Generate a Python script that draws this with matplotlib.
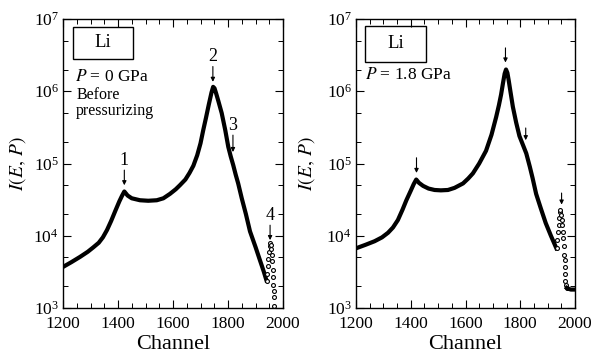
import matplotlib
matplotlib.use("Agg")
import matplotlib.pyplot as plt
from matplotlib.patches import Rectangle
from matplotlib.ticker import LogLocator, MultipleLocator, NullFormatter

plt.rcParams['font.family'] = ['Liberation Serif', 'DejaVu Serif']
plt.rcParams['mathtext.fontset'] = 'stix'

# ---- P = 0 GPa (before pressurizing) ----
ch_0 = [1200, 1230, 1262, 1290, 1310, 1330, 1345, 1360, 1375, 1390, 1405, 1415,
        1423, 1435, 1450, 1480, 1510, 1541, 1565, 1589, 1610, 1625, 1645, 1660,
        1674, 1688, 1700, 1710, 1720, 1730, 1740, 1746, 1751, 1757, 1765, 1777,
        1790, 1801, 1810, 1819, 1828, 1837, 1850, 1865, 1880, 1900, 1916, 1930, 1940]
I_0 = [3.7e3, 4.3e3, 5.1e3, 6.0e3, 6.9e3, 8.0e3, 9.5e3, 1.2e4, 1.6e4, 2.2e4, 3.0e4, 3.6e4,
       4.1e4, 3.6e4, 3.3e4, 3.1e4, 3.05e4, 3.1e4, 3.3e4, 3.8e4, 4.4e4, 5.0e4, 6.0e4, 7.4e4,
       9.3e4, 1.3e5, 1.9e5, 2.9e5, 4.3e5, 6.5e5, 9.6e5, 1.15e6, 1.1e6, 9.3e5, 7.3e5, 5.0e5,
       2.9e5, 1.7e5, 1.25e5, 9.5e4, 7.0e4, 5.3e4, 3.3e4, 2.0e4, 1.15e4, 7.0e3, 4.6e3, 3.2e3, 2.4e3]
# sparse tail (individual points visible)
ch_0_tail = [1941, 1943, 1945, 1947, 1949, 1951, 1953, 1955, 1957, 1959, 1961,
             1963, 1964, 1965, 1966, 1967, 1968]
I_0_tail = [2.4e3, 3.0e3, 3.8e3, 4.8e3, 6.0e3, 7.2e3, 7.9e3, 7.5e3, 6.5e3, 5.5e3, 4.5e3,
            3.4e3, 2.7e3, 2.1e3, 1.7e3, 1.4e3, 1.05e3]

# ---- P = 1.8 GPa ----
ch_18 = [1200, 1235, 1268, 1295, 1317, 1335, 1353, 1370, 1384, 1400, 1411, 1420,
         1430, 1445, 1465, 1487, 1510, 1536, 1560, 1591, 1610, 1627, 1650, 1675,
         1695, 1712, 1722, 1730, 1737, 1743, 1748, 1753, 1758, 1764, 1773, 1785,
         1797, 1810, 1822, 1835, 1845, 1858, 1875, 1893, 1912, 1932]
I_18 = [6.7e3, 7.5e3, 8.4e3, 9.5e3, 1.1e4, 1.3e4, 1.65e4, 2.3e4, 3.1e4, 4.2e4, 5.2e4, 6.0e4,
        5.4e4, 4.9e4, 4.5e4, 4.3e4, 4.25e4, 4.3e4, 4.6e4, 5.3e4, 6.2e4, 7.3e4, 1.0e5, 1.5e5,
        2.5e5, 4.4e5, 6.4e5, 9.0e5, 1.3e6, 1.75e6, 2.0e6, 1.8e6, 1.4e6, 1.0e6, 6.1e5, 3.7e5,
        2.4e5, 1.8e5, 1.38e5, 9.0e4, 6.3e4, 3.8e4, 2.4e4, 1.5e4, 1.0e4, 6.7e3]
ch_18_tail = [1933, 1936, 1939, 1941, 1943, 1945, 1947, 1949, 1951, 1953, 1955, 1957,
              1959, 1961, 1962, 1963, 1964, 1965, 1967, 1970]
I_18_tail = [6.7e3, 8.7e3, 1.14e4, 1.4e4, 1.74e4, 2.15e4, 2.3e4, 1.94e4, 1.65e4, 1.4e4,
             1.14e4, 9.2e3, 7.1e3, 5.4e3, 4.6e3, 3.7e3, 3.0e3, 2.4e3, 2.1e3, 1.9e3]
ch_18_end = [1970, 1975, 1985, 2000]
I_18_end = [1.9e3, 1.85e3, 1.8e3, 1.8e3]

# arrows: (channel, tail intensity, head intensity, label)
arrows_0 = [(1423, 8.1e4, 5.0e4, "1"), (1745, 2.2e6, 1.35e6, "2"),
            (1818, 2.47e5, 1.44e5, "3"), (1953, 1.4e4, 8.7e3, "4")]
arrows_18 = [(1421, 1.2e5, 7.4e4, ""), (1746, 3.98e6, 2.5e6, ""),
             (1820, 3.1e5, 2.1e5, ""), (1951, 3.9e4, 2.7e4, "")]

fig = plt.figure(figsize=(5.95, 3.57), dpi=100)
ax1 = fig.add_axes([63/595, 49/357, 220/595, 289/357])
ax2 = fig.add_axes([356/595, 49/357, 219/595, 289/357])


def style(ax):
    ax.set_yscale('log')
    ax.set_xlim(1200, 2000)
    ax.set_ylim(1e3, 1e7)
    ax.xaxis.set_major_locator(MultipleLocator(200))
    ax.xaxis.set_minor_locator(MultipleLocator(50))
    ax.yaxis.set_major_locator(LogLocator(base=10, numticks=10))
    ax.yaxis.set_minor_locator(LogLocator(base=10, subs=(2, 5), numticks=10))
    ax.yaxis.set_minor_formatter(NullFormatter())
    ax.tick_params(which='both', direction='in', top=True, right=True, labelsize=12.5)
    ax.tick_params(which='major', length=6, width=0.8)
    ax.tick_params(which='minor', length=3.5, width=0.7)
    ax.tick_params(axis='x', pad=6)
    ax.tick_params(axis='y', pad=3)
    for s in ax.spines.values():
        s.set_linewidth(1.0)
    ax.set_xlabel("Channel", fontsize=16)
    ax.xaxis.set_label_coords(0.5, -0.095)


def arrows(ax, items):
    for ch, y0, y1, lab in items:
        ax.annotate("", xy=(ch, y1), xytext=(ch, y0),
                    arrowprops=dict(arrowstyle='-|>', lw=0.8, color='black',
                                    mutation_scale=6, shrinkA=0, shrinkB=0))
        if lab:
            ax.text(ch, y0 * 1.05, lab, ha='center', va='bottom', fontsize=13)


def li_box(ax, x0, y0, w, h):
    ax.add_patch(Rectangle((x0, y0), w, h, transform=ax.transAxes, fill=False,
                           lw=1.0, ec='black'))
    ax.text(x0 + w / 2, y0 + h / 2, "Li", transform=ax.transAxes,
            ha='center', va='center', fontsize=13.5)


# left panel
style(ax1)
ax1.plot(ch_0, I_0, color='black', lw=3.0, solid_joinstyle='round')
ax1.plot(ch_0_tail, I_0_tail, ls='none', marker='o', ms=2.8, mfc='white',
         mec='black', mew=0.8)
arrows(ax1, arrows_0)
li_box(ax1, 0.045, 0.863, 0.275, 0.11)
ax1.text(0.055, 0.798, r"$P$ = 0 GPa", transform=ax1.transAxes, va='center', fontsize=12.5)
ax1.text(0.06, 0.71, "Before\npressurizing", transform=ax1.transAxes, va='center',
         fontsize=11.5, linespacing=0.95)
ax1.text(-0.205, 0.5, r"$I(E,\,P)$", transform=ax1.transAxes, rotation=90,
         ha='center', va='center', fontsize=14)

# right panel
style(ax2)
ax2.plot(ch_18, I_18, color='black', lw=3.0, solid_joinstyle='round')
ax2.plot(ch_18_tail, I_18_tail, ls='none', marker='o', ms=2.8, mfc='white',
         mec='black', mew=0.8)
ax2.plot(ch_18_end, I_18_end, color='black', lw=3.0)
arrows(ax2, arrows_18)
li_box(ax2, 0.041, 0.851, 0.279, 0.125)
ax2.text(0.041, 0.806, r"$P$ = 1.8 GPa", transform=ax2.transAxes, va='center', fontsize=12.5)
ax2.text(-0.224, 0.5, r"$I(E,\,P)$", transform=ax2.transAxes, rotation=90,
         ha='center', va='center', fontsize=14)

fig.savefig("out.png", dpi=100)
